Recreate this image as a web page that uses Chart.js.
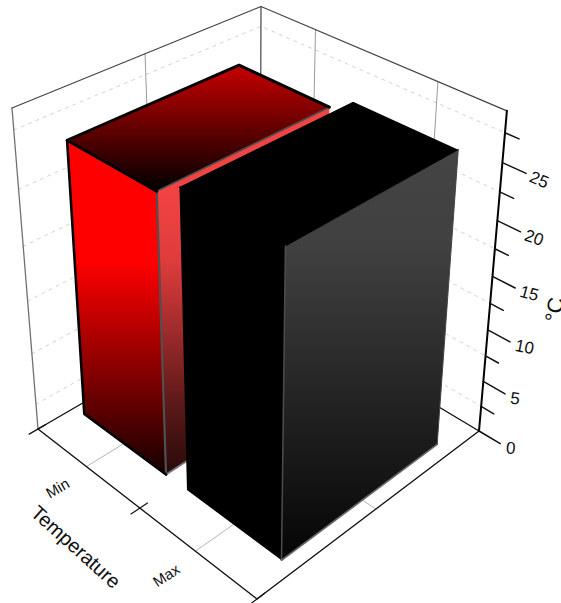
<!DOCTYPE html>
<html lang="en-US">
<head>
	<meta charset="utf-8">
	<script src="https://cdn.jsdelivr.net/npm/chart.js@4/dist/chart.umd.min.js"></script>
	<style>html,body{margin:0;padding:0;background:#fff;overflow:hidden;}canvas{display:block;}</style>
</head>
<body>
	<canvas id="myChart" width="561" height="603"></canvas>
	<script>
	var categories   = ['Min', 'Max'];
	var temperatures = [25.6, 27];
	var majorTicks   = [0, 5, 10, 15, 20, 25];
	var minorTicks   = [2.5, 7.5, 12.5, 17.5, 22.5, 27.5];
	var axisMax      = 29.3;
	var xTitle       = 'Temperature';
	var zTitle       = '°C';

	// box coordinates: u = category axis, v = depth, w = value, all 0..1
	function project(u, v, w)
	{
		var d = 1 - 0.12966 * u + 0.13143 * v - 0.109 * w;
		return {
			x: (185.68 * u + 256.17 * v - 27.31 * w + 38) / d,
			y: (92.33 * u - 89.57 * v - 332.8 * w + 429) / d
		};
	}
	function catCentre(i) { return (i + 0.5) / categories.length - 0.004; }

	var canvas = document.getElementById('myChart');
	var ctx = canvas.getContext('2d', { alpha: false });
	var sets = [];

	function line(points, color, width, dash)
	{
		sets.push({
			data: points.map(function(p) { return project(p[0], p[1], p[2]); }),
			showLine: true, fill: false, tension: 0, pointRadius: 0,
			borderColor: color, borderWidth: width, borderDash: dash || [],
			borderCapStyle: 'round', borderJoinStyle: 'round'
		});
	}
	function face(points, stops)
	{
		var data = points.map(function(p) { return project(p[0], p[1], p[2]); });
		var g = ctx.createLinearGradient(0, stops[0][0], 0, stops[stops.length - 1][0]);
		var span = stops[stops.length - 1][0] - stops[0][0];
		stops.forEach(function(s) { g.addColorStop((s[0] - stops[0][0]) / span, s[1]); });
		sets.push({
			data: data.concat([data[0]]),
			showLine: true, fill: 'shape', tension: 0, pointRadius: 0,
			borderWidth: 0, borderColor: 'rgba(0,0,0,0)', backgroundColor: g
		});
	}

	// walls and floor grid
	minorTicks.forEach(function(t) {
		var w = t / axisMax;
		line([[0, 0, w], [0, 1, w], [1, 1, w]], '#d2d2d2', 1, [3, 5]);
	});
	line([[0, 0.5, 0], [0, 0.5, 1]], '#9a9a9a', 1);
	categories.forEach(function(c, i) {
		line([[catCentre(i), 1, 0], [catCentre(i), 1, 1]], '#9a9a9a', 1);
		line([[catCentre(i), 0, 0], [catCentre(i), 1, 0]], '#b5b5b5', 1);
	});
	line([[0, 0.5, 0], [1, 0.5, 0]], '#b5b5b5', 1);
	line([[0, 0, 0], [0, 0, 1]], '#707070', 1.3);
	line([[0, 1, 0], [0, 1, 1]], '#444444', 1.2);
	line([[0, 0, 1], [0, 1, 1], [1, 1, 1]], '#444444', 1.2);
	line([[0, 0, 0], [0, 1, 0], [1, 1, 0]], '#111111', 1.4);

	// axes and ticks
	line([[0, 0, 0], [1, 0, 0], [1, 1, 0]], '#111111', 1.4);
	line([[1, 1, 0], [1, 1, 1]], '#000000', 2);
	majorTicks.forEach(function(t) { line([[1, 1, t / axisMax], [1.085, 1, t / axisMax]], '#111111', 1.5); });
	minorTicks.forEach(function(t) { line([[1, 1, t / axisMax], [1.05, 1, t / axisMax]], '#111111', 1.5); });
	[0, 0.5, 1].forEach(function(u) { line([[u, -0.035, 0], [u, 0.03, 0]], '#111111', 1.2); });

	// bars
	var barWidth = 0.4, vFront = 0.152, vBack = 0.855;

	function redBar(u0, u1, w)
	{
		face([[u1, vFront, w], [u1, vBack, w], [u1, vBack, 0], [u1, vFront, 0]],
			[[190, '#f24343'], [260, '#e03c3c'], [400, '#5f1a1a'], [475, '#280a0a']]);
		face([[u0, vFront, w], [u1, vFront, w], [u1, vFront, 0], [u0, vFront, 0]],
			[[140, '#ff0000'], [262, '#ff0000'], [475, '#140000']]);
		face([[u0, vFront, w], [u0, vBack, w], [u1, vBack, w], [u1, vFront, w]],
			[[66, '#c60000'], [191, '#000000']]);
		line([[u1, vFront, 0], [u1, vBack, 0]], '#777777', 2);
		line([[u1, vFront, w], [u1, vBack, w]], '#505050', 1.8);
		line([[u1, vFront, w], [u1, vFront, 0]], '#505050', 2.2);
		line([[u1, vBack, w], [u0, vBack, w], [u0, vFront, w], [u1, vFront, w]], '#000000', 3);
		line([[u0, vFront, w], [u0, vFront, 0], [u1, vFront, 0]], '#000000', 2.6);
	}
	function blackBar(u0, u1, w)
	{
		face([[u0, vFront, w], [u0, vBack, w], [u1, vBack, w], [u1, vFront, w]],
			[[100, '#000000'], [240, '#000000']]);
		face([[u0, vFront, w], [u1, vFront, w], [u1, vFront, 0], [u0, vFront, 0]],
			[[190, '#000000'], [560, '#000000']]);
		line([[u0, vFront, w], [u1, vFront, w]], '#000000', 1.2);
		face([[u1, vFront, w], [u1, vBack, w], [u1, vBack, 0], [u1, vFront, 0]],
			[[149, '#444444'], [250, '#404040'], [560, '#050505']]);
		line([[u1, vFront, w], [u1, vBack, w]], '#000000', 1);
		line([[u1, vFront, w], [u1, vFront, 0]], '#4c4c4c', 1.5);
		line([[u1, vFront, 0], [u1, vBack, 0]], '#666666', 1.6);
		line([[u1, vBack, 0], [u1, vBack, w]], '#444444', 1);
	}
	var c0 = catCentre(0), c1 = catCentre(1);
	redBar(c0 - barWidth / 2, c0 + barWidth / 2, temperatures[0] / axisMax);
	blackBar(c1 - barWidth / 2 - 0.004, c1 + barWidth / 2, temperatures[1] / axisMax);

	// text on the projected axes
	var axisText = {
		id: 'axisText',
		beforeDraw: function(chart)
		{
			chart.ctx.save();
			chart.ctx.fillStyle = '#ffffff';
			chart.ctx.fillRect(0, 0, chart.width, chart.height);
			chart.ctx.restore();
		},
		afterDatasetsDraw: function(chart)
		{
			var c = chart.ctx, sx = chart.scales.x, sy = chart.scales.y;
			function put(txt, px, py, deg, font)
			{
				c.save();
				c.translate(sx.getPixelForValue(px), sy.getPixelForValue(py));
				c.rotate(deg * Math.PI / 180);
				c.font = font;
				c.fillStyle = '#111111';
				c.textAlign = 'center';
				c.textBaseline = 'middle';
				c.fillText(txt, 0, 0);
				c.restore();
			}
			majorTicks.forEach(function(t) {
				var p = project(1, 1, t / axisMax);
				var half = String(t).length * 4.75;
				put(String(t), p.x + 27 + half, p.y + 18, t * 0.8 + 3, '17px "Liberation Sans"');
			});
			var labelRot = [-30, -33];
			categories.forEach(function(name, i) {
				var p = project(catCentre(i), -0.11, 0);
				put(name, p.x, p.y + 5, labelRot[i], '15px "Liberation Sans"');
			});
			put(xTitle, 75, 548, 42, '20px "Liberation Sans"');
			put(zTitle, 556, 310, -80, '22px "Liberation Sans"');
		}
	};

	new Chart(ctx, {
		type: 'scatter',
		data: { datasets: sets.reverse() },
		options: {
			responsive: false,
			animation: false,
			events: [],
			layout: { padding: 0 },
			plugins: { legend: { display: false }, tooltip: { enabled: false } },
			scales: {
				x: { display: false, type: 'linear', min: 0, max: 561 },
				y: { display: false, type: 'linear', min: 0, max: 603, reverse: true }
			}
		},
		plugins: [axisText]
	});
	</script>
</body>
</html>
